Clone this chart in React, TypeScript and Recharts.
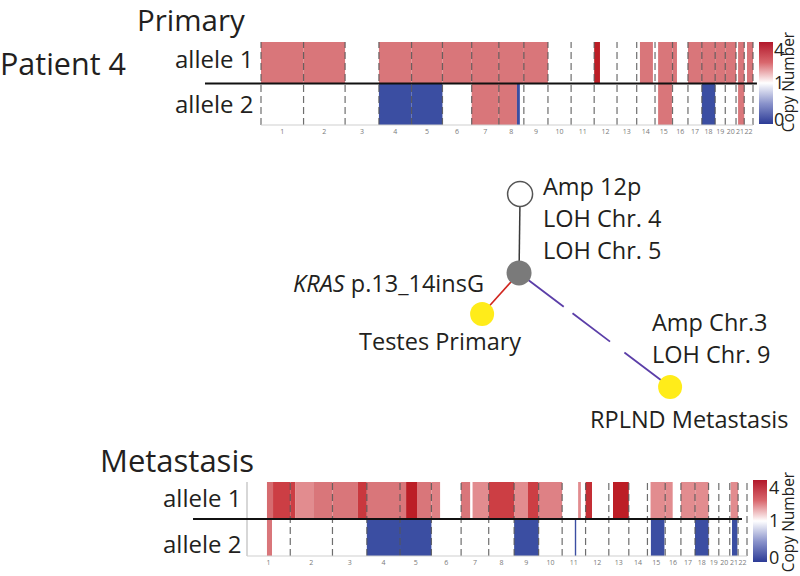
import React from 'react';
import {
  ComposedChart,
  ScatterChart,
  Scatter,
  XAxis,
  YAxis,
  ReferenceArea,
  ReferenceLine,
} from 'recharts';

// ---------- data ----------
const chromosomes = ['1', '2', '3', '4', '5', '6', '7', '8', '9', '10', '11', '12', '13', '14', '15', '16', '17', '18', '19', '20', '21', '22'];
const chromLengthsMb = [249.25, 243.2, 198.0, 191.2, 180.9, 171.1, 159.1, 146.4, 141.2, 135.5, 135.0, 133.9, 115.2, 107.3, 102.5, 90.4, 81.2, 78.1, 59.1, 63.0, 48.1, 51.3];

// [chromosome, start Mb, end Mb, copy number]
type Seg = [number, number, number, number];

const primaryAllele1: Seg[] = [
  [1, 0, 249.25, 2], [2, 0, 243.2, 2],
  [4, 0, 191.2, 2], [5, 0, 180.9, 2], [6, 0, 171.1, 2], [7, 0, 159.1, 2], [8, 0, 146.4, 2], [9, 0, 141.2, 2],
  [12, 0, 34, 4],
  [14, 19, 95, 2], [15, 18, 102.5, 2], [16, 0, 26, 2],
  [17, 0, 81.2, 2], [18, 0, 78.1, 2], [19, 0, 59.1, 2], [20, 0, 63.0, 2],
  [21, 12, 48.1, 2], [22, 16, 51.3, 2],
];
const primaryAllele2: Seg[] = [
  [4, 0, 191.2, 0], [5, 0, 180.9, 0],
  [7, 0, 158.5, 2], [8, 0, 106, 2], [8, 106, 123, 0],
  [15, 18, 99, 2], [18, 0, 78.1, 0], [21, 12, 48.1, 2],
];

const metastasisAllele1: Seg[] = [
  [1, 115, 150, 2.2], [1, 150, 249.25, 3], [2, 0, 28, 3], [2, 28, 131, 1.8], [2, 132, 243.2, 2],
  [3, 0, 147, 2], [3, 147, 198.0, 3.2],
  [4, 0, 191.2, 2], [5, 0, 35, 2], [5, 35, 98, 4], [5, 98, 180.9, 2], [6, 0, 50, 1.9],
  [7, 0, 52, 2], [7, 66, 159.1, 1.8], [8, 0, 146.4, 3],
  [9, 0, 80, 1.8], [9, 80, 141.2, 3], [10, 0, 135.5, 1.9],
  [11, 92, 108, 1.8], [12, 0, 37, 3.5], [13, 24, 115.2, 4],
  [15, 18, 102.5, 1.8], [16, 0, 43, 1.8], [17, 0, 81.2, 1.8], [18, 1, 78.1, 1.8],
  [21, 5, 48.1, 1.8],
];
const metastasisAllele2: Seg[] = [
  [1, 115, 144, 2], [4, 0, 191.2, 0], [5, 0, 180.9, 0], [9, 0, 141.2, 0],
  [11, 73, 81, 0], [15, 20, 98, 0], [18, 0, 78.1, 0], [21, 13, 44, 0],
];

// extent of the allele divider line, in Mb
const primaryDivider = [-328, 2904];
const metastasisDivider = [-311, 2852];

// tree (layout units 0-100)
const treeNodeIds = ['root', 'branch', 'testes', 'rplnd'];
const treeNodeX = [30.8, 30.4, 16.2, 88.5];
const treeNodeY = [10, 42.9, 60, 90.4];
const treeEdges: [string, string][] = [['root', 'branch'], ['branch', 'testes'], ['branch', 'rplnd']];

// ---------- styles ----------
const FONT = "'Open Sans', 'Noto Sans', sans-serif";
const TEXT = '#231f20';
const cnStops: [number, number[]][] = [
  [0, [59, 78, 162]],
  [1, [255, 255, 255]],
  [1.8, [226, 140, 143]],
  [2, [217, 118, 122]],
  [3, [204, 62, 68]],
  [4, [188, 30, 38]],
];
function cnColor(cn: number): string {
  for (let i = 0; i < cnStops.length - 1; i++) {
    const [a, ca] = cnStops[i];
    const [b, cb] = cnStops[i + 1];
    if (cn <= b) {
      const t = Math.max(0, Math.min(1, (cn - a) / (b - a)));
      const c = ca.map((v, k) => Math.round(v + (cb[k] - v) * t));
      return `rgb(${c[0]},${c[1]},${c[2]})`;
    }
  }
  const c = cnStops[cnStops.length - 1][1];
  return `rgb(${c[0]},${c[1]},${c[2]})`;
}

const edgeStyles: Record<string, any> = {
  'root-branch': { stroke: '#3a3a3a', strokeWidth: 1.5 },
  'branch-testes': { stroke: '#d0261f', strokeWidth: 1.6 },
  'branch-rplnd': { stroke: '#5b3ea8', strokeWidth: 1.8, strokeDasharray: '56 11 47 18 100' },
};
const nodeStyles: Record<string, any> = {
  root: { r: 12.5, fill: '#ffffff', stroke: '#555555', strokeWidth: 1.5 },
  branch: { r: 12.5, fill: '#7a7a7a', stroke: 'none', strokeWidth: 0 },
  testes: { r: 12, fill: '#ffec1a', stroke: 'none', strokeWidth: 0 },
  rplnd: { r: 12, fill: '#ffec1a', stroke: 'none', strokeWidth: 0 },
};

// ---------- derived ----------
const chromStarts: number[] = [];
chromLengthsMb.reduce((acc, l) => {
  chromStarts.push(acc);
  return acc + l;
}, 0);
const genomeLength = chromLengthsMb.reduce((a, b) => a + b, 0);
const chromMids = chromLengthsMb.map((l, i) => chromStarts[i] + l / 2);
const boundaries = [...chromStarts, genomeLength];
const anchorData = chromMids.map((x) => ({ x, y: 0 }));
const toX = (chr: number, mb: number) => chromStarts[chr - 1] + mb;

const treeNodes = treeNodeIds.map((id, i) => ({ id, x: treeNodeX[i], y: treeNodeY[i] }));
const nodeById = (id: string) => treeNodes.find((n) => n.id === id)!;

function CopyNumberPanel(props: {
  allele1: Seg[];
  allele2: Seg[];
  divider: number[];
  height: number;
  margin: { top: number; right: number; bottom: number; left: number };
  xAxisHeight: number;
  solidEdge?: boolean;
}) {
  const { allele1, allele2, divider, height, margin, xAxisHeight, solidEdge } = props;
  return (
    <ComposedChart width={800} height={height} margin={margin}>
      <XAxis
        type="number"
        dataKey="x"
        domain={[0, genomeLength]}
        allowDataOverflow
        ticks={chromMids}
        interval={0}
        tickFormatter={(v: number) => chromosomes[chromMids.indexOf(v)] ?? ''}
        tick={{ fontSize: 7, fill: '#7a7a7a', fontFamily: FONT }}
        tickLine={false}
        tickSize={0}
        tickMargin={4}
        axisLine={{ stroke: '#cfcfcf' }}
        height={xAxisHeight}
      />
      <YAxis type="number" dataKey="y" domain={[0, 2]} allowDataOverflow hide width={0} />
      <Scatter data={anchorData} isAnimationActive={false} shape={() => <g />} />
      {allele1.map(([c, s, e, cn], i) => (
        <ReferenceArea key={'a1-' + i} x1={toX(c, s)} x2={toX(c, e)} y1={1} y2={2} fill={cnColor(cn)} fillOpacity={1} stroke="none" />
      ))}
      {allele2.map(([c, s, e, cn], i) => (
        <ReferenceArea key={'a2-' + i} x1={toX(c, s)} x2={toX(c, e)} y1={0} y2={1} fill={cnColor(cn)} fillOpacity={1} stroke="none" />
      ))}
      {boundaries.map((b, i) => (
        <ReferenceLine
          key={'b' + i}
          x={b}
          stroke={solidEdge && i === 0 ? '#b0b0b0' : '#555555'}
          strokeOpacity={0.85}
          strokeWidth={1.2}
          strokeDasharray={solidEdge && i === 0 ? undefined : '7 4'}
        />
      ))}
      <ReferenceLine
        segment={[{ x: divider[0], y: 1 }, { x: divider[1], y: 1 }]}
        stroke="#111111"
        strokeWidth={2}
        ifOverflow="visible"
      />
    </ComposedChart>
  );
}

function NodeShape(p: any) {
  const st = nodeStyles[p.payload?.id] || nodeStyles.root;
  return <circle cx={p.cx} cy={p.cy} r={st.r} fill={st.fill} stroke={st.stroke} strokeWidth={st.strokeWidth} />;
}

function ColorBar({ x, y, h }: { x: number; y: number; h: number }) {
  return <rect x={x} y={y} width={14} height={h} fill="url(#cnGrad)" />;
}

export default function App() {
  const t = { fontFamily: FONT, fill: TEXT } as const;
  const tree = 23.5;
  return (
    <div style={{ position: 'absolute', left: 0, top: 0, width: 800, height: 576, background: '#fff', overflow: 'hidden' }}>
      <div style={{ position: 'absolute', left: 0, top: 0 }}>
        <CopyNumberPanel
          allele1={primaryAllele1}
          allele2={primaryAllele2}
          divider={primaryDivider}
          height={140}
          margin={{ top: 42, right: 47, bottom: 0, left: 261 }}
          xAxisHeight={15}
        />
      </div>
      <div style={{ position: 'absolute', left: 0, top: 470 }}>
        <CopyNumberPanel
          allele1={metastasisAllele1}
          allele2={metastasisAllele2}
          divider={metastasisDivider}
          height={106}
          margin={{ top: 12, right: 53, bottom: 0, left: 247 }}
          xAxisHeight={20}
          solidEdge
        />
      </div>
      <div style={{ position: 'absolute', left: 440, top: 170 }}>
        <ScatterChart width={260} height={240} margin={{ top: 0, right: 0, bottom: 0, left: 0 }}>
          <XAxis type="number" dataKey="x" domain={[0, 100]} allowDataOverflow hide height={0} />
          <YAxis type="number" dataKey="y" domain={[0, 100]} allowDataOverflow hide reversed width={0} />
          {treeEdges.map(([a, b]) => (
            <Scatter
              key={a + '-' + b}
              data={[nodeById(a), nodeById(b)]}
              line={edgeStyles[a + '-' + b]}
              shape={() => <g />}
              isAnimationActive={false}
            />
          ))}
          <Scatter data={treeNodes} shape={NodeShape} isAnimationActive={false} />
        </ScatterChart>
      </div>
      <svg width={800} height={576} style={{ position: 'absolute', left: 0, top: 0, pointerEvents: 'none' }}>
        <defs>
          <linearGradient id="cnGrad" x1="0" y1="0" x2="0" y2="1">
            <stop offset="0" stopColor="#b2182b" />
            <stop offset="0.25" stopColor="#d9676d" />
            <stop offset="0.5" stopColor="#ffffff" />
            <stop offset="0.75" stopColor="#8a93cb" />
            <stop offset="1" stopColor="#2c3b96" />
          </linearGradient>
        </defs>
        {/* primary header */}
        <text x={137} y={31} fontSize={29.5} {...t}>Primary</text>
        <text x={0} y={75} fontSize={30.5} {...t}>Patient 4</text>
        <text x={175} y={68} fontSize={24} {...t}>allele 1</text>
        <text x={175} y={113} fontSize={24} {...t}>allele 2</text>
        <ColorBar x={759} y={42} h={82} />
        <text x={774} y={56} fontSize={18} {...t}>4</text>
        <text x={774} y={89} fontSize={18} {...t}>1</text>
        <text x={774} y={126} fontSize={18} {...t}>0</text>
        <text x={794} y={82} fontSize={15.5} textAnchor="middle" transform="rotate(-90 794 82)" {...t}>Copy Number</text>

        {/* tree labels */}
        <text x={543} y={195} fontSize={tree} {...t}>Amp 12p</text>
        <text x={543} y={227} fontSize={tree} {...t}>LOH Chr. 4</text>
        <text x={543} y={259} fontSize={tree} {...t}>LOH Chr. 5</text>
        <text x={484} y={292} fontSize={tree} textAnchor="end" {...t}>
          <tspan fontStyle="italic">KRAS</tspan>
          <tspan>{' p.13_14insG'}</tspan>
        </text>
        <text x={359} y={350} fontSize={tree} {...t}>Testes Primary</text>
        <text x={652} y={331} fontSize={tree} {...t}>Amp Chr.3</text>
        <text x={652} y={363} fontSize={tree} {...t}>LOH Chr. 9</text>
        <text x={590} y={428} fontSize={tree} {...t}>RPLND Metastasis</text>

        {/* metastasis header */}
        <text x={100} y={472} fontSize={31} {...t}>Metastasis</text>
        <text x={163} y={507} fontSize={24} {...t}>allele 1</text>
        <text x={163} y={553} fontSize={24} {...t}>allele 2</text>
        <ColorBar x={753} y={480} h={82} />
        <text x={769} y={494} fontSize={18} {...t}>4</text>
        <text x={769} y={527} fontSize={18} {...t}>1</text>
        <text x={769} y={564} fontSize={18} {...t}>0</text>
        <text x={794} y={522} fontSize={15.5} textAnchor="middle" transform="rotate(-90 794 522)" {...t}>Copy Number</text>
      </svg>
    </div>
  );
}
